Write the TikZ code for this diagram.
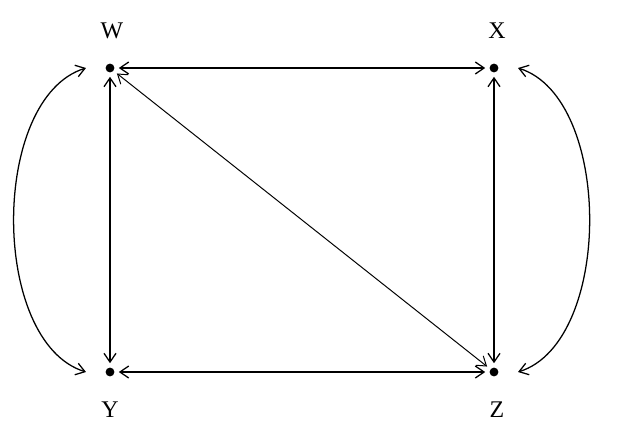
\documentclass[tikz,border=0pt]{standalone}
\usepackage{fontspec}
\setmainfont{Liberation Serif}
\usetikzlibrary{arrows.meta}
\begin{document}
\begin{tikzpicture}[x=0.025cm,y=-0.025cm,
        >={Straight Barb[length=0.22cm,width=0.3cm]},
        dot/.style={circle,fill,inner sep=0pt,minimum size=0.22cm,outer sep=0.11cm},
        lbl/.style={font=\fontsize{17}{20}\selectfont},
        arr/.style={<->,line width=0.9pt}]
        \useasboundingbox (0,0) rectangle (623,429);
        \node[dot] (W) at (110,68) {};
        \node[dot] (X) at (494,68) {};
        \node[dot] (Y) at (110,372) {};
        \node[dot] (Z) at (494,372) {};
        \node[lbl] (lw) at (112,31) {W};
        \node[lbl] (lx) at (497,31) {X};
        \node[lbl] (ly) at (110,410) {Y};
        \node[lbl] (lz) at (497,410) {Z};
        \draw[arr] (W) -- (X);
        \draw[arr] (Y) -- (Z);
        \draw[arr] (W) -- (Y);
        \draw[arr] (X) -- (Z);
        \draw[arr,line width=0.7pt] (W) -- (Z);
        % outer curves
        \draw[arr] ([xshift=-0.6cm]W.center) .. controls (-10,98) and (-10,342) .. ([xshift=-0.6cm]Y.center);
        \draw[arr] ([xshift=0.6cm]X.center) .. controls (613,98) and (613,342) .. ([xshift=0.6cm]Z.center);
    \end{tikzpicture}
\end{document}
